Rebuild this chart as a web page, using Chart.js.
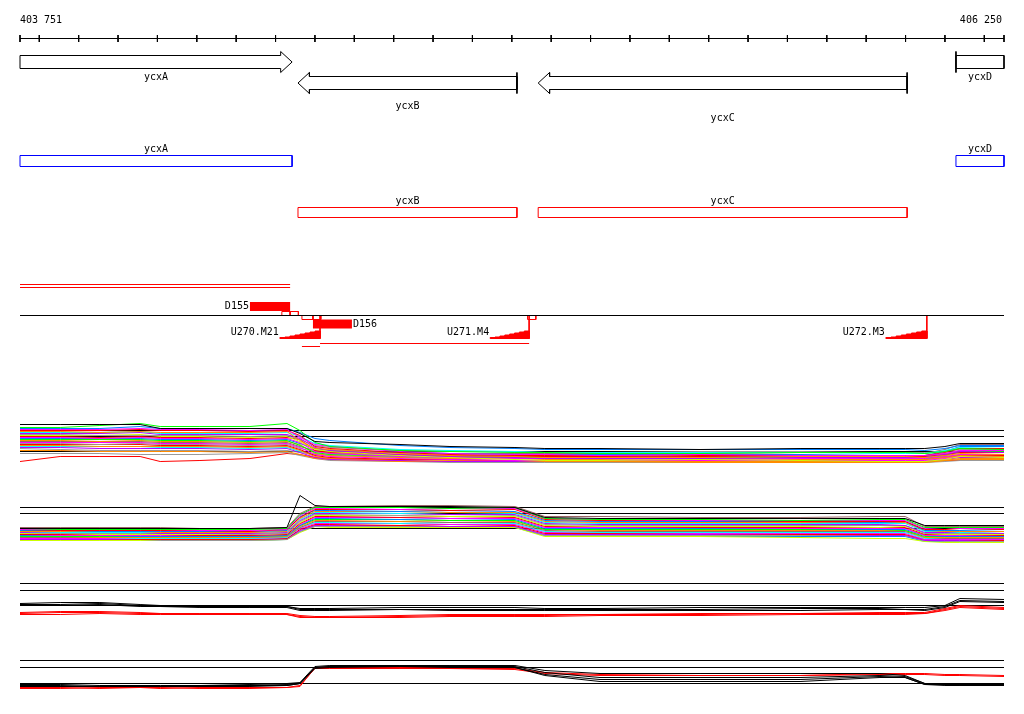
<!DOCTYPE html>
<html>
<head>
<meta charset="utf-8">
<script src="https://cdn.jsdelivr.net/npm/chart.js@4.4.0/dist/chart.umd.min.js"></script>
<style>
  body { margin: 0; background: #fff; }
  canvas { display: block; }
</style>
</head>
<body>
<canvas id="chart" width="1024" height="714"></canvas>
<script>
// genome window shown
const winStart = 403751;
const winEnd = 406250;
const tickStep = 100;

// genes
const geneNames  = ['ycxA', 'ycxB', 'ycxC', 'ycxD'];
const geneStart  = [403751, 404457, 405067, 406128];
const geneEnd    = [404442, 405013, 406004, 406250];
const geneStrand = ['+', '-', '-', '+'];

// binding sites / promoters
const siteNames = ['D155', 'D156'];
const siteStart = [404335, 404495];
const siteEnd   = [404437, 404594];
const promNames = ['U270.M21', 'U271.M4', 'U272.M3'];
const promStart = [404411, 404945, 405950];
const promEnd   = [404513, 405044, 406054];
const promSteps = [1, 1.5, 2.5, 3.5, 4.5, 5.5, 6.5, 7.5];
const boxStart  = [404416, 404437, 404467, 404495, 405040];
const boxEnd    = [404437, 404458, 404495, 404515, 405061];
const boxAbove  = [true, true, false, false, false];
const termStart = [404411, 404467, 404513];

// probe positions shared by the signal tracks
const probePos = [403751, 403853, 403954, 404056, 404107, 404208, 404335, 404429,
  404462, 404500, 404538, 404716, 404843, 405008, 405084, 405224,
  405478, 405732, 405935, 405999, 406049, 406100, 406138, 406250];

// track 1: many conditions
const track1Ref = [40, 34, 19];
const track1Colors = ['#000000','#00ff00','#0080ff','#ff00ff','#ff0000','#ff8c00','#00ffff','#bb00ff',
  '#999999','#ccff00','#ff0000','#ff00ff','#0080ff','#00ff00','#ff8c00','#996666','#ff00ff','#999999',
  '#ff0000','#ff8c00','#00ffff','#bb00ff','#999999','#ff8c00','#999999','#ff0000'];
const track1Series = [
  [46,46,46,46,42,42,42,42,37,29,28,26,24,23,22,22,21,22,22,22,22,24,27,27],
  [43,43,45,47,44,44,44,47,40,28,24,20,19,18,18,17,17,18,18,18,17,19,22,21],
  [42,42,42,44,42,42,42,42,38,32,30,25,23,22,21,21,21,21,21,21,20,22,25,25],
  [41,41,41,42,41,41,40,41,33,26,24,19,17,16,16,15,16,15,15,15,15,17,20,20],
  [40,40,40,41,40,40,39,40,35,24,22,18,16,15,15,15,14,15,15,15,15,18,22,22],
  [39,39,38,39,38,38,38,39,30,22,21,17,15,14,13,13,13,14,14,14,13,15,17,16],
  [38,38,38,39,37,37,37,38,34,27,25,21,20,19,18,18,18,18,17,17,17,20,23,22],
  [37,37,37,38,36,36,36,36,32,23,20,16,14,13,12,12,12,13,13,13,13,16,19,18],
  [36,36,35,35,35,35,34,35,31,25,23,20,19,19,18,18,19,19,18,18,18,19,21,21],
  [35,35,35,36,34,34,33,34,29,21,19,15,13,11,10,10,11,10,9,9,9,11,14,13],
  [34,34,33,34,33,33,32,33,31,20,18,16,15,14,14,14,15,15,14,14,14,16,18,18],
  [33,33,32,33,32,32,31,32,28,19,17,14,13,12,12,12,11,12,12,12,12,14,16,16],
  [32,32,32,32,31,31,30,31,27,22,20,18,17,16,16,16,16,16,15,15,15,19,24,24],
  [31,31,31,31,30,30,29,30,25,18,16,14,13,13,13,13,13,13,13,13,12,15,19,19],
  [30,30,29,30,29,29,28,29,26,17,15,13,12,12,11,11,12,11,11,11,11,13,15,14],
  [29,29,29,29,28,28,27,28,24,20,19,18,17,17,17,17,17,18,18,18,17,21,26,26],
  [28,28,28,28,27,27,26,27,23,16,14,12,11,10,10,10,10,10,10,10,10,12,14,14],
  [27,27,26,27,26,26,25,26,22,19,17,15,14,14,14,14,14,14,14,14,14,17,20,20],
  [26,26,26,26,25,25,24,25,21,15,13,11,11,10,10,10,10,10,11,11,11,13,15,15],
  [25,25,24,24,24,24,23,24,20,14,12,11,10,10,9,9,9,9,9,9,9,10,12,12],
  [24,24,24,24,23,23,22,23,19,17,16,15,15,14,14,14,14,14,14,14,14,16,18,18],
  [23,23,22,22,22,22,21,22,18,13,11,10,9,9,9,9,9,9,9,9,9,11,13,13],
  [22,21,20,20,20,20,19,20,18,16,15,13,12,12,12,12,12,12,12,12,12,14,16,16],
  [20,20,19,19,19,19,18,19,16,12,11,9,9,9,9,9,8,8,8,8,8,10,11,11],
  [17,17,17,16,16,16,17,18,15,12,10,9,8,8,8,8,8,8,8,8,8,9,10,10],
  [9,14,14,14,9,10,12,17,16,13,12,10,9,9,9,9,9,9,9,9,9,10,10,10]
];

// track 2
const track2Ref = [40, 34, 19];
const track2Colors = ['#000000','#996666','#00ff00','#ff00ff','#ff0000','#0080ff','#ff8c00','#00ffff',
  '#bb00ff','#999999','#ccff00','#ff0000','#ff00ff','#0080ff','#00ff00','#ff8c00','#996666','#00ffff',
  '#ff00ff','#ff0000','#bb00ff','#999999','#ccff00','#0080ff'];
const track2Series = [
  [19,19,19,19,19,19,19,20,52,42,41,41,41,40,30,29,29,29,29,29,22,22,22,22],
  [20,20,20,20,20,19,19,20,34,41,41,42,42,41,31,31,30,30,31,31,21,21,21,21],
  [19,18,18,18,18,18,18,19,33,40,40,40,39,40,29,28,28,27,28,28,20,20,20,20],
  [18,18,18,18,18,17,17,18,32,39,39,38,39,39,29,28,27,27,27,27,19,20,19,19],
  [18,17,17,17,17,17,16,18,30,38,38,38,37,38,28,27,27,26,26,26,18,18,19,18],
  [17,17,16,16,16,16,16,17,31,37,37,36,37,36,27,26,26,26,25,26,17,17,17,18],
  [16,16,16,16,15,15,15,16,29,36,36,36,35,35,26,25,25,25,25,25,17,16,16,16],
  [16,15,15,15,15,15,15,16,28,35,35,34,35,34,25,24,24,24,24,24,16,16,15,16],
  [15,15,15,15,14,14,14,15,27,34,34,34,33,33,24,23,23,23,23,22,15,15,15,14],
  [15,14,14,14,14,14,13,14,26,33,33,32,33,32,23,22,22,22,22,22,14,14,14,14],
  [14,14,13,13,13,13,13,14,25,32,32,32,31,31,22,21,21,21,20,21,14,13,13,13],
  [13,13,13,13,13,12,12,13,24,31,31,30,31,30,21,21,20,20,20,20,13,13,13,12],
  [13,12,12,12,12,12,12,13,23,30,30,30,29,29,20,20,20,19,19,19,12,12,12,12],
  [12,12,12,11,11,11,11,12,22,29,29,28,29,28,19,19,19,19,18,18,12,11,11,11],
  [11,11,11,11,11,11,11,12,22,28,28,28,27,27,18,18,18,18,18,17,11,11,11,11],
  [11,11,10,10,10,10,10,11,21,27,27,26,27,26,18,17,17,17,17,17,10,10,10,10],
  [10,10,10,10,10,10,10,11,20,26,26,26,25,25,17,16,16,16,16,16,10,9,9,9],
  [10,10,10,9,9,9,9,10,20,25,25,24,25,24,16,15,15,15,15,15,9,9,9,9],
  [9,9,9,9,9,9,9,10,19,24,24,24,23,23,15,15,14,14,14,14,8,8,8,8],
  [9,9,9,8,8,8,8,9,18,23,23,22,23,22,14,14,14,13,13,13,8,8,8,7],
  [8,8,8,8,8,8,8,9,17,22,22,22,21,21,13,13,13,13,12,12,7,7,7,7],
  [8,8,8,8,7,7,7,8,16,21,21,21,21,21,12,12,12,12,12,12,7,6,6,6],
  [7,7,7,7,7,7,7,8,15,21,20,20,20,20,11,11,11,10,9,9,6,5,5,5],
  [8,8,8,8,8,8,7,8,16,22,21,21,21,20,12,12,11,11,11,11,6,6,6,6]
];

// track 3
const track3Ref = [41, 34, 19];
const track3Colors = ['#000000','#000000','#000000','#ff0000','#ff0000','#ff0000'];
const track3Series = [
  [21,22,22,20,19,18,18,18,16,16,16,17,17,17,16,16,17,17,17,17,17,19,26,25],
  [20,20,21,19,18,18,18,18,15,15,15,15,15,15,15,15,15,16,16,15,15,18,24,23],
  [19,19,20,18,18,17,17,17,14,14,14,15,14,14,14,14,14,14,15,15,14,17,23,22],
  [12,13,13,12,11,11,11,11,9,8,8,9,10,10,10,10,11,11,12,12,12,16,19,17],
  [11,12,12,11,11,10,10,10,8,7,7,8,9,9,9,10,10,11,11,11,11,15,18,16],
  [10,10,11,10,10,10,10,10,7,7,7,7,8,8,8,9,9,10,10,10,11,14,17,15]
];

// track 4
const track4Ref = [41, 34, 18];
const track4Colors = ['#000000','#000000','#000000','#000000','#ff0000','#ff0000'];
const track4Series = [
  [17,17,16,16,16,16,17,18,19,35,36,36,36,36,31,28,28,28,28,26,18,17,17,17],
  [16,15,15,15,15,16,16,17,18,34,35,35,35,35,29,24,24,24,26,25,18,17,17,16],
  [16,16,15,15,15,15,15,16,18,34,35,35,35,34,27,22,22,22,25,24,17,17,16,16],
  [15,15,15,16,15,15,16,16,18,33,34,35,35,34,26,20,20,20,24,24,17,16,16,16],
  [13,13,14,14,14,13,13,14,15,34,34,34,33,33,29,27,26,26,28,28,28,27,27,26],
  [14,14,13,14,13,14,14,14,16,33,33,33,33,32,28,26,26,26,27,27,27,26,26,25]
];

// layout (pixel rows)
const bpPerPx = (winEnd - winStart) / 984;
const trackBase = [470.5, 547.5, 624.5, 701.5];
const fwdRow = { top: 55.5, bot: 68.5, hTop: 51.5, hBot: 72.5, mid: 62 };
const revRow = { top: 76.5, bot: 89.5, hTop: 72.5, hBot: 93.5, mid: 83 };
const headLen = 29;
const geneLabelY = [77, 106, 118, 77];

const datasets = [];
const texts = [];

function line(points, color, extra) {
  datasets.push(Object.assign({
    type: 'line', data: points, borderColor: color, borderWidth: 1,
    pointRadius: 0, fill: false, tension: 0, yAxisID: 'yPx', order: 2
  }, extra || {}));
}
function fmt(n) { return String(n).replace(/\B(?=(\d{3})+(?!\d))/g, ' '); }

// ruler
line([{x: winStart, y: 38.5}, {x: winEnd, y: 38.5}], '#000');
const tickPts = [];
const ticks = [winStart];
for (let t = Math.ceil(winStart / tickStep) * tickStep; t < winEnd; t += tickStep) ticks.push(t);
ticks.push(winEnd);
ticks.forEach(t => { tickPts.push({x: t, y: 35}, {x: t, y: 42}, {x: t, y: null}); });
line(tickPts, '#000', {spanGaps: false});
texts.push({text: fmt(winStart), x: winStart, y: 20, align: 'left', dx: 0});
texts.push({text: fmt(winEnd), x: winEnd, y: 20, align: 'right', dx: -2});

// gene arrows
geneNames.forEach((name, i) => {
  const L = geneStart[i], R = geneEnd[i];
  const cutL = L <= winStart, cutR = R >= winEnd;
  let pts;
  if (geneStrand[i] === '+') {
    const r = fwdRow;
    if (cutR) pts = [[L, r.top], [R, r.top], [R, r.bot], [L, r.bot], [L, r.top]];
    else pts = [[L, r.top], [R - headLen, r.top], [R - headLen, r.hTop], [R, r.mid],
      [R - headLen, r.hBot], [R - headLen, r.bot], [L, r.bot], [L, r.top]];
    if (!cutL) line([{x: L, y: r.hTop}, {x: L, y: r.hBot}], '#000');
  } else {
    const r = revRow;
    if (cutL) pts = [[L, r.top], [R, r.top], [R, r.bot], [L, r.bot], [L, r.top]];
    else pts = [[L, r.mid], [L + headLen, r.hTop], [L + headLen, r.top], [R, r.top], [R, r.bot],
      [L + headLen, r.bot], [L + headLen, r.hBot], [L, r.mid]];
    if (!cutR) line([{x: R, y: r.hTop}, {x: R, y: r.hBot}], '#000');
  }
  line(pts.map(p => ({x: p[0], y: p[1]})), '#000');
  texts.push({text: name, x: (L + R) / 2, y: geneLabelY[i], align: 'center', dx: 0});

  // strand boxes
  const fwd = geneStrand[i] === '+';
  const t = fwd ? 155.5 : 207.5, b = fwd ? 166.5 : 217.5;
  line([{x: L, y: t}, {x: R, y: t}, {x: R, y: b}, {x: L, y: b}, {x: L, y: t}], fwd ? '#0000ff' : '#ff0000');
  texts.push({text: name, x: (L + R) / 2, y: fwd ? 149 : 201, align: 'center', dx: 0});
});

// feature track
line([{x: winStart, y: 284.5}, {x: siteEnd[0], y: 284.5}], '#ff0000');
line([{x: winStart, y: 287.5}, {x: siteEnd[0], y: 287.5}], '#ff0000');
line([{x: winStart, y: 315.5}, {x: winEnd, y: 315.5}], '#000');
siteNames.forEach((name, i) => {
  const t = i === 0 ? 302 : 319.5, b = i === 0 ? 311 : 328.5;
  line([{x: siteStart[i], y: t}, {x: siteEnd[i], y: t}, {x: siteEnd[i], y: b}, {x: siteStart[i], y: b}, {x: siteStart[i], y: t}],
    '#ff0000', {fill: 'shape', backgroundColor: '#ff0000', borderWidth: 0});
  if (i === 0) texts.push({text: name, x: siteStart[i], y: 306, align: 'right', dx: -1});
  else texts.push({text: name, x: siteEnd[i], y: 324, align: 'left', dx: 1});
});
boxStart.forEach((s, i) => {
  const t = boxAbove[i] ? 311.5 : 315.5, b = boxAbove[i] ? 315.5 : 319.5;
  line([{x: s, y: t}, {x: boxEnd[i], y: t}, {x: boxEnd[i], y: b}, {x: s, y: b}, {x: s, y: t}], '#ff0000');
});
promNames.forEach((name, i) => {
  const s = promStart[i], e = promEnd[i], w = (e - s) / promSteps.length, base = 338.5;
  const pts = [{x: s, y: base}];
  promSteps.forEach((h, k) => {
    pts.push({x: s + k * w, y: base - h}, {x: s + (k + 1) * w, y: base - h});
  });
  pts.push({x: e, y: base}, {x: s, y: base});
  line(pts, '#ff0000', {fill: 'shape', backgroundColor: '#ff0000'});
  line([{x: e, y: 315.5}, {x: e, y: base}], '#ff0000');
  texts.push({text: name, x: s, y: 332, align: 'right', dx: -1});
});
line([{x: termStart[2], y: 343.5}, {x: promEnd[1], y: 343.5}], '#ff0000');
line([{x: termStart[1], y: 346.5}, {x: termStart[2], y: 346.5}], '#ff0000');

// signal tracks
const tracks = [
  {ref: track1Ref, colors: track1Colors, series: track1Series},
  {ref: track2Ref, colors: track2Colors, series: track2Series},
  {ref: track3Ref, colors: track3Colors, series: track3Series},
  {ref: track4Ref, colors: track4Colors, series: track4Series}
];
const scales = {
  x: {type: 'linear', display: false, min: winStart - 20 * bpPerPx, max: winEnd + 20 * bpPerPx},
  yPx: {type: 'linear', display: false, min: 0, max: 714, reverse: true}
};
tracks.forEach((tr, k) => {
  const id = 'y' + (k + 1);
  scales[id] = {type: 'linear', display: false, min: trackBase[k] - 714, max: trackBase[k]};
  tr.ref.forEach(v => {
    datasets.push({type: 'line', data: [{x: winStart, y: v}, {x: winEnd, y: v}], borderColor: '#000',
      borderWidth: 1, pointRadius: 0, yAxisID: id, order: 10});
  });
  tr.series.forEach((vals, j) => {
    datasets.push({type: 'line', data: vals.map((v, p) => ({x: probePos[p], y: v})),
      borderColor: tr.colors[j], borderWidth: 1, pointRadius: 0, tension: 0, yAxisID: id, order: 1});
  });
});

const textPlugin = {
  id: 'texts',
  afterDatasetsDraw(chart) {
    const ctx = chart.ctx, xs = chart.scales.x, ys = chart.scales.yPx;
    ctx.save();
    ctx.font = '10px "DejaVu Sans Mono"';
    ctx.fillStyle = '#000';
    ctx.textBaseline = 'middle';
    texts.forEach(l => {
      ctx.textAlign = l.align;
      ctx.fillText(l.text, xs.getPixelForValue(l.x) + l.dx, ys.getPixelForValue(l.y));
    });
    ctx.restore();
  }
};

new Chart(document.getElementById('chart'), {
  type: 'line',
  data: {datasets: datasets},
  options: {
    responsive: false,
    animation: false,
    events: [],
    layout: {padding: 0},
    scales: scales,
    plugins: {legend: {display: false}, tooltip: {enabled: false}}
  },
  plugins: [textPlugin, {
    id: 'bg',
    beforeDraw(chart) {
      const c = chart.ctx;
      c.save(); c.fillStyle = '#fff'; c.fillRect(0, 0, chart.width, chart.height); c.restore();
    }
  }]
});
</script>
</body>
</html>
